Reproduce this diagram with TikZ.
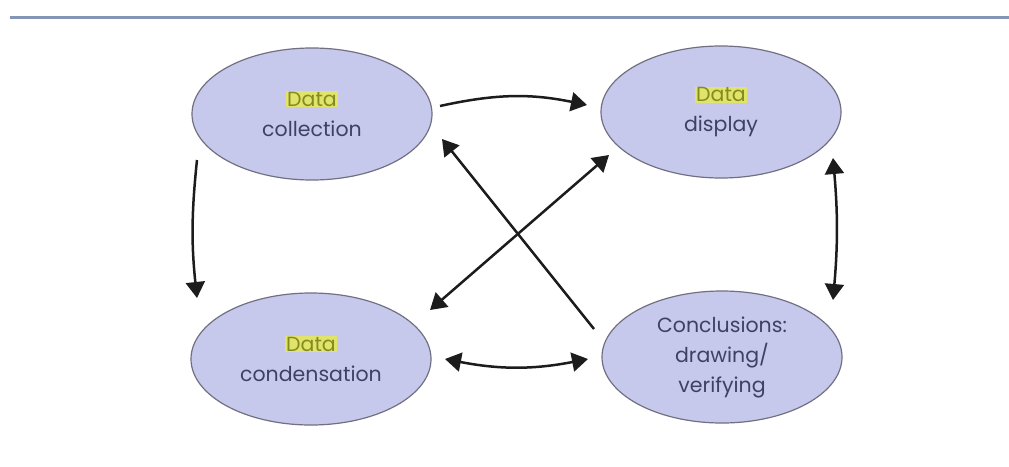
\documentclass[tikz,border=0pt]{standalone}
\usepackage{fontspec}
\setmainfont{Poppins}
\usetikzlibrary{shapes.geometric,arrows.meta}
\definecolor{ellfill}{RGB}{198,201,236}
\definecolor{ellline}{RGB}{112,112,130}
\definecolor{txt}{RGB}{62,66,98}
\definecolor{hl}{RGB}{226,228,105}
\definecolor{hltxt}{RGB}{130,140,35}
\definecolor{rule}{RGB}{132,150,184}
\definecolor{arr}{RGB}{28,28,28}
\tikzset{
  oval/.style={ellipse, draw=ellline, line width=1.2pt, fill=ellfill, minimum width=240pt, minimum height=132pt, inner sep=0pt, align=center, text=txt, font=\fontsize{20.5}{30}\selectfont},
  conn/.style={draw=arr, line width=2.5pt, {Triangle[length=16pt,width=19pt]}-{Triangle[length=16pt,width=19pt]}},
  oneway/.style={draw=arr, line width=2.5pt, -{Triangle[length=16pt,width=19pt]}}
}
\newcommand{\hldata}{\colorbox{hl}{\color{hltxt}Data}}
\setlength{\fboxsep}{0.8pt}
\begin{document}
\begin{tikzpicture}[x=1pt,y=-1pt]
\useasboundingbox (0,0) rectangle (1009,466);
\fill[white] (0,0) rectangle (1009,466);
\coordinate (r1) at (10,17);
\coordinate (r2) at (1009,17);
\draw[rule, line width=3pt] (r1) -- (r2);
\node[oval] (dc) at (312,114) {\hldata\\collection};
\node[oval] (dd) at (721,112) {\hldata\\display};
\node[oval] (dn) at (311,359) {\hldata\\condensation};
\node[oval] (cv) at (722,357) {Conclusions:\\drawing/\\verifying};
% top arrow
\draw[oneway] ([shift={(128,-8)}]dc.center) to[bend left=12] ([shift={(-134,-7)}]dd.center);
% left arrow
\draw[oneway] ([shift={(-115,46)}]dc.center) to[bend right=6] ([shift={(-114,-61)}]dn.center);
% right arrow
\draw[conn] ([shift={(112,46)}]dd.center) to[bend left=5] ([shift={(111,-57)}]cv.center);
% bottom arrow
\draw[conn] ([shift={(134,0)}]dn.center) to[bend right=11] ([shift={(-134,2)}]cv.center);
% diagonals
\draw[oneway] ([shift={(-128,-28)}]cv.center) -- ([shift={(130,25)}]dc.center);
\draw[conn] ([shift={(-112,43)}]dd.center) -- ([shift={(119,-49)}]dn.center);
\end{tikzpicture}
\end{document}
